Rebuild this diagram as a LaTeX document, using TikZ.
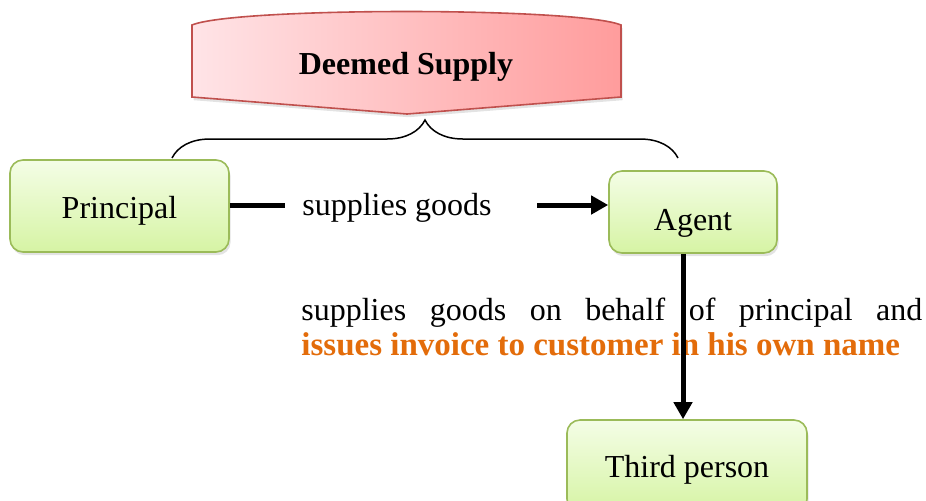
\documentclass[tikz,border=0pt]{standalone}
\usepackage{fontspec}
\setmainfont{Liberation Serif}
\usetikzlibrary{arrows.meta,shadows,decorations.pathreplacing}
\definecolor{boxline}{HTML}{9BBB59}
\definecolor{boxtop}{HTML}{F4FDE6}
\definecolor{boxbot}{HTML}{D6F4A4}
\definecolor{banline}{HTML}{C0504D}
\definecolor{banleft}{HTML}{FFE4E7}
\definecolor{banright}{HTML}{FF9C9C}
\definecolor{invoice}{HTML}{E36C0A}
\tikzset{
  greenbox/.style={draw=boxline, line width=0.8pt, rounded corners=6.5pt,
    top color=boxtop, bottom color=boxbot,
    drop shadow={opacity=0.22, shadow xshift=0.8pt, shadow yshift=-1.6pt},
    font=\fontsize{16}{19}\selectfont, text depth=3.5pt},
  link/.style={line width=2.5pt},
  arr/.style={line width=2.5pt, -{Triangle[length=8.5pt,width=9pt]}}
}
\begin{document}
\begin{tikzpicture}[x=0.5pt,y=-0.5pt]
    \useasboundingbox (0,0) rectangle (926,500);
    % banner
    \draw[draw=banline, line width=0.8pt, left color=banleft, right color=banright,
        drop shadow={opacity=0.22, shadow xshift=0.8pt, shadow yshift=-1.6pt}]
        (192,25) .. controls (235,7) and (578,7) .. (621,25) -- (621,97) -- (407,114) -- (192,97) -- cycle;
    \node[font=\fontsize{16}{19}\selectfont\bfseries] (title) at (406,67) {Deemed Supply};
    % brace
    \coordinate (bl) at (172,158);
    \coordinate (br) at (678,158);
    \draw[line width=0.75pt, decorate, decoration={brace, amplitude=19pt}] (bl) -- (br);
    % boxes
    \node[greenbox, minimum width=109.5pt, minimum height=46pt, text height=16pt] (principal) at (119.5,206) {Principal};
    \node[greenbox, minimum width=84pt, minimum height=41pt, text height=22pt] (agent) at (693,212) {Agent};
    \node[greenbox, minimum width=120pt, minimum height=46pt, text height=15pt] (third) at (687,466) {Third person};
    % principal to agent
    \node[font=\fontsize{16}{19}\selectfont] (goods) at (397,208) {supplies goods};
    \coordinate (cut1) at (285,205);
    \coordinate (cut2) at (537,205);
    \draw[link] (principal.east |- cut1) -- (cut1);
    \draw[arr] (cut2) -- (cut2 -| agent.west);
    % agent to third person
    \node[anchor=north west, inner sep=0pt, text width=310.5pt, align=justify,
        font=\fontsize{16}{17.5}\selectfont] (note) at (301,298)
        {supplies goods on behalf of principal and\linebreak
        \textcolor{invoice}{\fontsize{16.5}{17.5}\selectfont\bfseries issues invoice to customer in his own name}};
    \coordinate (drop) at ([xshift=-5pt]agent.south);
    \draw[arr] (drop) -- (drop |- third.north);
\end{tikzpicture}
\end{document}
